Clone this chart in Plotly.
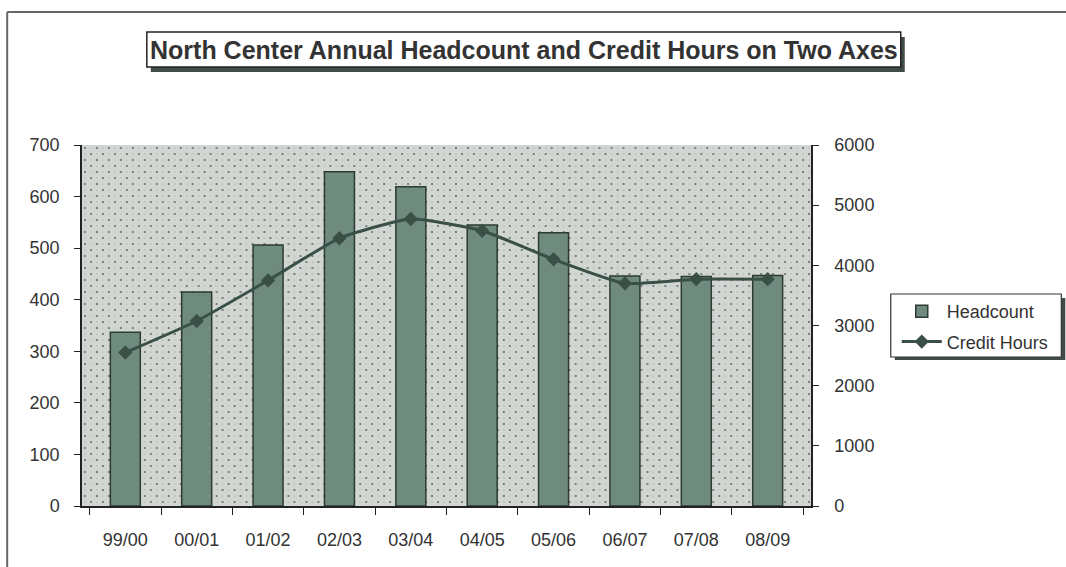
import base64
import plotly.graph_objects as go

# Academic years and the two measures
years = ["99/00", "00/01", "01/02", "02/03", "03/04", "04/05", "05/06", "06/07", "07/08", "08/09"]
headcount = [337, 415, 506, 648, 619, 545, 530, 446, 445, 447]
credit_hours = [2550, 3075, 3750, 4450, 4770, 4575, 4100, 3700, 3770, 3770]

title_text = "North Center Annual Headcount and Credit Hours on Two Axes"
left_ticks = list(range(0, 701, 100))
right_ticks = list(range(0, 6001, 1000))

# Figure geometry (pixels)
FIG_W, FIG_H = 1066, 567
PL, PR, PT, PB = 82, 813, 145, 506   # plot area edges
PW, PH = PR - PL, PB - PT

BAR_FILL = "#6f8b7f"
BAR_EDGE = "#2c3a33"
LINE_COL = "#3a4f46"
TEXT_COL = "#333333"
FONT = "Liberation Sans, Arial, sans-serif"


def px_x(x):
    return (x - PL) / PW


def px_y(y):
    return (PB - y) / PH


# Stippled plot-area background as an inline SVG tile pattern
svg = (
    f'<svg xmlns="http://www.w3.org/2000/svg" width="{PW}" height="{PH}" '
    f'viewBox="0 0 {PW} {PH}" preserveAspectRatio="none">'
    '<defs><pattern id="p" width="12" height="12" patternUnits="userSpaceOnUse">'
    '<rect width="12" height="12" fill="#d1d6d2"/>'
    '<circle cx="3" cy="3" r="1" fill="#5b625e"/>'
    '<circle cx="9" cy="9" r="1" fill="#5b625e"/>'
    '<circle cx="9" cy="3" r="0.6" fill="#9aa19d"/>'
    '<circle cx="3" cy="9" r="0.6" fill="#9aa19d"/>'
    '</pattern></defs>'
    '<rect width="100%" height="100%" fill="url(#p)"/></svg>'
)
bg_src = "data:image/svg+xml;base64," + base64.b64encode(svg.encode()).decode()

fig = go.Figure()

fig.add_trace(go.Bar(
    x=years, y=headcount, name="Headcount",
    marker=dict(color=BAR_FILL, line=dict(color=BAR_EDGE, width=1.5)),
    width=0.42, legendgroup="a", yaxis="y",
))

fig.add_trace(go.Scatter(
    x=years, y=credit_hours, name="Credit Hours",
    mode="lines+markers",
    line=dict(color=LINE_COL, width=3, shape="spline", smoothing=0.5),
    marker=dict(symbol="diamond", size=11, color=LINE_COL),
    legendgroup="b", yaxis="y2",
))

shapes = [
    # outer chart frame
    dict(type="line", xref="paper", yref="paper",
         x0=px_x(7), x1=px_x(FIG_W + 5), y0=px_y(12), y1=px_y(12),
         line=dict(color="#666666", width=2)),
    dict(type="line", xref="paper", yref="paper",
         x0=px_x(7), x1=px_x(7), y0=px_y(12), y1=px_y(FIG_H + 5),
         line=dict(color="#666666", width=2)),
    # title box shadow and box
    dict(type="rect", xref="paper", yref="paper",
         x0=px_x(151), x1=px_x(907), y0=px_y(72), y1=px_y(37),
         fillcolor="#3f4d46", line=dict(width=0)),
    dict(type="rect", xref="paper", yref="paper",
         x0=px_x(147), x1=px_x(903), y0=px_y(67), y1=px_y(32),
         fillcolor="white", line=dict(color="#222222", width=1.5)),
    # legend box shadow and box
    dict(type="rect", xref="paper", yref="paper",
         x0=px_x(897), x1=px_x(1068), y0=px_y(360), y1=px_y(298),
         fillcolor="#3f4d46", line=dict(width=0)),
    dict(type="rect", xref="paper", yref="paper",
         x0=px_x(893), x1=px_x(1064), y0=px_y(357), y1=px_y(294),
         fillcolor="white", line=dict(color="#333333", width=1.2)),
]

fig.update_layout(
    width=FIG_W, height=FIG_H,
    margin=dict(l=PL, r=FIG_W - PR, t=PT, b=FIG_H - PB, pad=0),
    paper_bgcolor="white",
    plot_bgcolor="#d1d6d2",
    font=dict(family=FONT, size=18, color=TEXT_COL),
    showlegend=True,
    legend=dict(
        x=px_x(899), y=px_y(293), xanchor="left", yanchor="top",
        bgcolor="rgba(0,0,0,0)", borderwidth=0,
        font=dict(family=FONT, size=18, color=TEXT_COL),
        traceorder="grouped", tracegroupgap=4, itemwidth=40,
    ),
    xaxis=dict(
        type="category", categoryorder="array", categoryarray=years,
        showline=True, linecolor="#222222", linewidth=1.5,
        ticks="outside", ticklen=7, tickcolor="#222222", tickwidth=1.2,
        tickson="boundaries", showgrid=False, zeroline=False,
        ticklabelstandoff=17,
        tickfont=dict(family=FONT, size=18, color=TEXT_COL),
    ),
    yaxis=dict(
        range=[0, 700], tickvals=left_ticks,
        showline=True, linecolor="#222222", linewidth=1.5,
        ticks="outside", ticklen=6, tickcolor="#222222", tickwidth=1.2,
        showgrid=False, zeroline=False, ticklabelstandoff=11,
        tickfont=dict(family=FONT, size=18, color=TEXT_COL),
    ),
    yaxis2=dict(
        range=[0, 6000], tickvals=right_ticks, overlaying="y", side="right",
        showline=True, linecolor="#222222", linewidth=1.5,
        ticks="outside", ticklen=6, tickcolor="#222222", tickwidth=1.2,
        showgrid=False, zeroline=False, ticklabelstandoff=12,
        tickfont=dict(family=FONT, size=18, color=TEXT_COL),
    ),
    shapes=shapes,
    images=[dict(
        source=bg_src, xref="paper", yref="paper",
        x=0, y=1, sizex=1, sizey=1, xanchor="left", yanchor="top",
        sizing="stretch", layer="below",
    )],
    annotations=[dict(
        text="<b>" + title_text + "</b>",
        xref="paper", yref="paper", x=px_x(525), y=px_y(50),
        xanchor="center", yanchor="middle", showarrow=False,
        font=dict(family=FONT, size=25, color=TEXT_COL),
    )],
)

fig.write_html("out.html")
